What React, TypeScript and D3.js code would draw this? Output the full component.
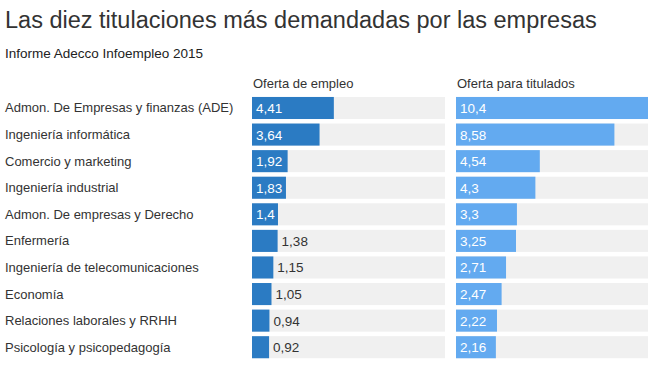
import React from "react";
import * as d3 from "d3";

const categories = [
  "Admon. De Empresas y finanzas (ADE)",
  "Ingeniería informática",
  "Comercio y marketing",
  "Ingeniería industrial",
  "Admon. De empresas y Derecho",
  "Enfermería",
  "Ingeniería de telecomunicaciones",
  "Economía",
  "Relaciones laborales y RRHH",
  "Psicología y psicopedagogía",
];
const ofertaEmpleo = [4.41, 3.64, 1.92, 1.83, 1.4, 1.38, 1.15, 1.05, 0.94, 0.92];
const ofertaTitulados = [10.4, 8.58, 4.54, 4.3, 3.3, 3.25, 2.71, 2.47, 2.22, 2.16];
const seriesNames = ["Oferta de empleo", "Oferta para titulados"];
const title = "Las diez titulaciones más demandadas por las empresas";
const subtitle = "Informe Adecco Infoempleo 2015";

const W = 664;
const H = 369;
const FONT = "'Liberation Sans', Arial, Helvetica, sans-serif";

const fmt = (v: number) => String(v).replace(".", ",");

export default function App() {
  const y = d3
    .scaleBand<string>()
    .domain(categories)
    .range([97 - 2.3, 360.5])
    .paddingInner(0.17)
    .paddingOuter(0.085);
  const panels = [
    { x0: 252, x1: 445, values: ofertaEmpleo, color: "#2b7bc3", name: seriesNames[0] },
    { x0: 456, x1: 648, values: ofertaTitulados, color: "#63aaf0", name: seriesNames[1] },
  ];
  const maxV = d3.max(ofertaTitulados) as number;
  const measure = (s: string) => s.length * 7.2;

  return (
    <svg width={W} height={H} style={{ position: "absolute", left: 0, top: 0 }}>
      <rect width={W} height={H} fill="#fff" />
      <text x={5} y={28} fontFamily={FONT} fontSize={23.5} fill="#333">
        {title}
      </text>
      <text x={5} y={58} fontFamily={FONT} fontSize={13.5} fill="#222">
        {subtitle}
      </text>
      {categories.map((c) => (
        <text
          key={c}
          x={5}
          y={(y(c) as number) + y.bandwidth() / 2 + 4.5}
          fontFamily={FONT}
          fontSize={13}
          fill="#333"
        >
          {c}
        </text>
      ))}
      {panels.map((p, pi) => {
        const x = d3.scaleLinear().domain([0, maxV]).range([p.x0, p.x1]);
        return (
          <g key={pi}>
            <text x={p.x0 + 1} y={88} fontFamily={FONT} fontSize={13} fill="#333">
              {p.name}
            </text>
            {categories.map((c, i) => {
              const v = p.values[i];
              const by = y(c) as number;
              const bw = x(v) - x(0);
              const label = fmt(v);
              const inside = bw >= measure(label) + 4;
              return (
                <g key={c}>
                  <rect x={p.x0} y={by} width={p.x1 - p.x0} height={y.bandwidth()} fill="#f0f0f0" />
                  <rect x={p.x0} y={by} width={bw} height={y.bandwidth()} fill={p.color} />
                  <text
                    x={inside ? p.x0 + 4 : x(v) + 4}
                    y={by + y.bandwidth() / 2 + 5}
                    fontFamily={FONT}
                    fontSize={13.5}
                    fill={inside ? "#fff" : "#333"}
                  >
                    {label}
                  </text>
                </g>
              );
            })}
          </g>
        );
      })}
    </svg>
  );
}
